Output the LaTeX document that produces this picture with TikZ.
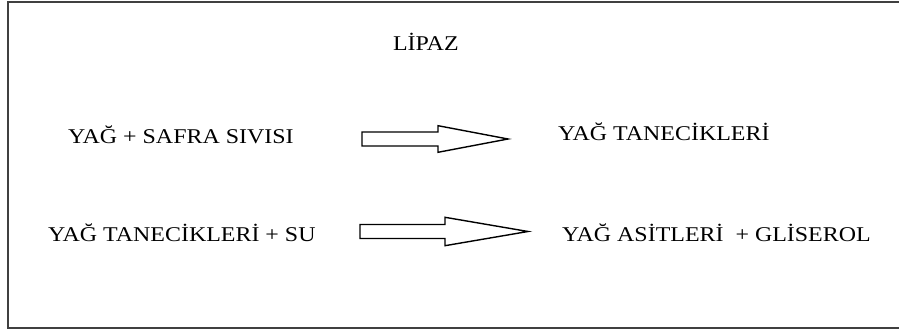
\documentclass[tikz,border=0pt]{standalone}
\usepackage{fontspec}
\setmainfont{Liberation Serif}
\usetikzlibrary{calc}

\tikzset{
  frameline/.style={draw=black!75, line width=2pt},
  label/.style={anchor=base west, inner sep=0pt, outer sep=0pt,
    font=\fontsize{21}{25}\selectfont},
  blockarrow/.style={draw=black, fill=white, line width=1.4pt, line join=miter},
}

% hollow block arrow: start, tip, head length, shaft half-width, head half-width
\newcommand\hollowarrow[5]{%
  \draw[blockarrow]
    ($(#1)+(0,#4)$) -- ($(#2)+(-#3,#4)$) -- ($(#2)+(-#3,#5)$) -- (#2)
    -- ($(#2)+(-#3,-#5)$) -- ($(#2)+(-#3,-#4)$) -- ($(#1)+(0,-#4)$) -- cycle;
}

\newcommand\wide[1]{\scalebox{1.14}[1]{#1}}

\begin{document}
\begin{tikzpicture}[x=1pt, y=1pt]
  \useasboundingbox (0,0) rectangle (899,331);
  \clip (0,0) rectangle (899,331);

  % outer frame (right side runs off the page)
  \draw[frameline] (8,2.5) rectangle (920,328.5);

  % enzyme name
  \node[label] (enz) at (393,280) {\wide{LİPAZ}};

  % first step
  \node[label] (r1) at (68,187) {\wide{YAĞ + SAFRA SIVISI}};
  \node[label] (p1) at (558,190) {\wide{YAĞ TANECİKLERİ}};

  % second step
  \node[label] (r2) at (48,89.3) {\wide{YAĞ TANECİKLERİ + SU}};
  \node[label] (p2) at (562,89.3) {\wide{YAĞ ASİTLERİ\ \ + GLİSEROL}};

  % reaction arrows
  \coordinate (a1s) at (362,192);
  \coordinate (a1e) at (508,192);
  \coordinate (a2s) at (360,99.5);
  \coordinate (a2e) at (528,99.5);
  \hollowarrow{a1s}{a1e}{70}{7}{13.3}
  \hollowarrow{a2s}{a2e}{83}{7}{14.2}
\end{tikzpicture}
\end{document}
